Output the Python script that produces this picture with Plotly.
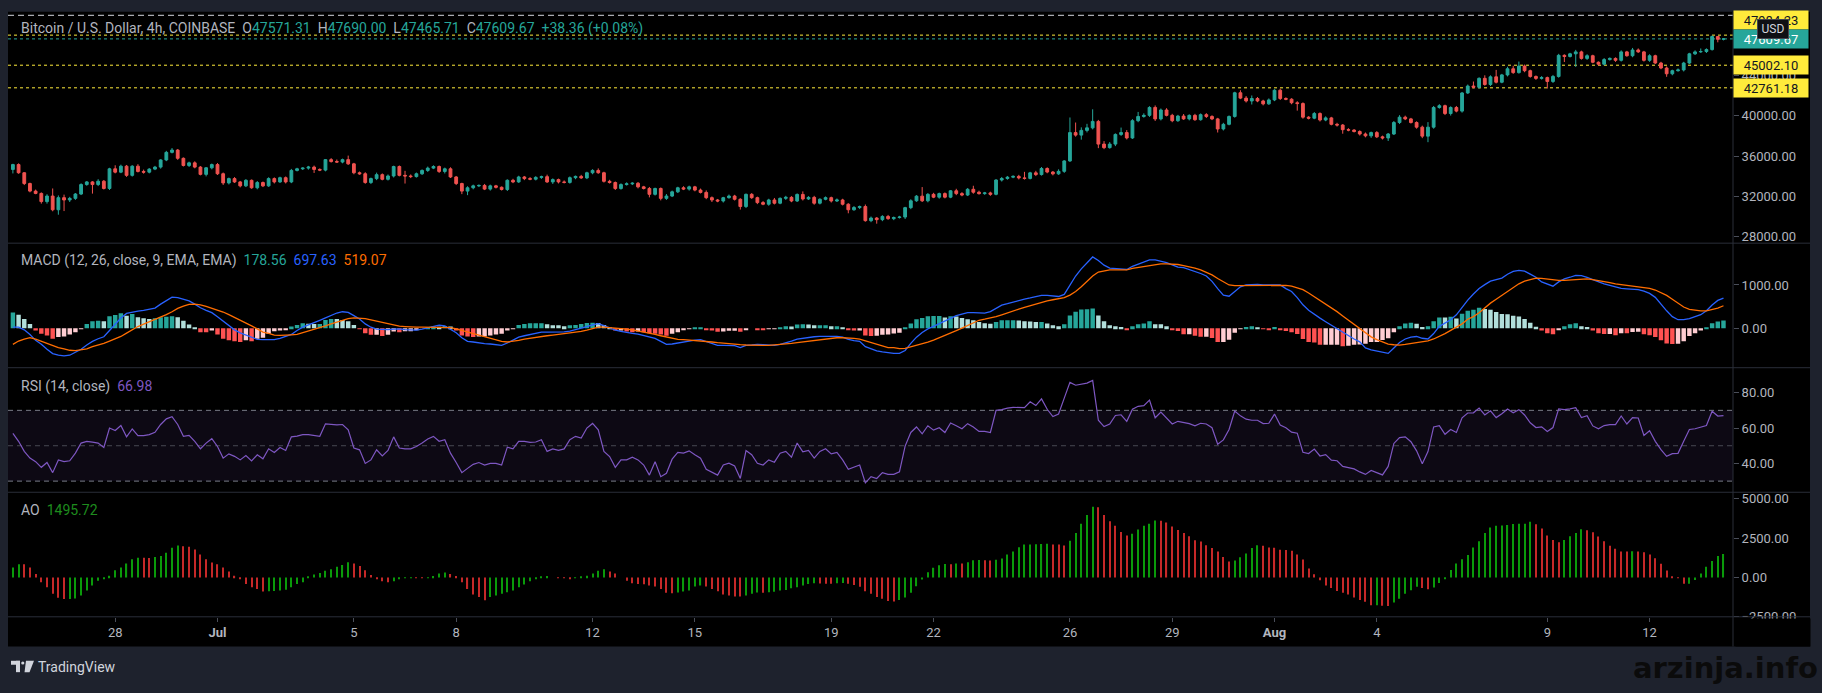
import pandas as pd
import plotly.graph_objects as go

W, H = 1822, 693

# 4h candles, BTC/USD (Coinbase), 25 Jun - 14 Aug 2021
FIRST_OPEN = 34670
CLOSE = [
    35150, 34340, 33270, 32520, 32290, 31480, 32030, 30670, 31870, 31640,
    31800, 32230, 33170, 33430, 33170, 33500, 32780, 34730, 34400, 34990,
    34080, 34990, 34470, 34400, 34700, 34900, 35610, 36360, 36590, 35770,
    35060, 35320, 34900, 34180, 34830, 35150, 34240, 33330, 33760, 33430,
    33040, 33590, 32850, 33370, 33040, 33760, 33430, 33850, 33430, 34570,
    34730, 34800, 34900, 34670, 34600, 35640, 35450, 35400, 35640, 35220,
    34340, 34240, 33370, 33760, 34150, 33690, 34020, 34960, 34080, 34020,
    33960, 34240, 34570, 34800, 34960, 34470, 34730, 33920, 33270, 32520,
    32850, 33040, 33080, 32720, 33040, 32900, 32680, 33590, 33430, 33920,
    33760, 33700, 33880, 33950, 33430, 33660, 33430, 33380, 33850, 33980,
    33830, 34340, 34570, 34340, 33490, 33370, 32780, 33170, 33240, 33300,
    32940, 32780, 32200, 32780, 31800, 32030, 32450, 32850, 32720, 32940,
    32620, 32390, 31870, 31640, 31540, 31870, 32030, 31710, 30990, 32200,
    31870, 31380, 31220, 31640, 31320, 31800, 31900, 31540, 32190, 31740,
    31900, 31320, 31710, 31870, 31540, 31640, 31220, 30670, 30890, 30990,
    29590, 29850, 29690, 30010, 29790, 29900, 29950, 30880, 31560, 32020,
    31560, 32200, 31920, 32270, 31920, 32550, 32270, 32130, 32700, 32410,
    32270, 32340, 32200, 33620, 33770, 33900, 33980, 33830, 33780, 34330,
    34160, 34760, 34410, 34230, 34480, 35510, 38320, 38070, 38540, 38790,
    39430, 37180, 36830, 37180, 38140, 38320, 37790, 39500, 39920, 40030,
    40815, 39675, 40560, 40030, 39500, 39960, 39680, 40030, 39600, 40100,
    39920, 39680, 38680, 39140, 39920, 42270, 41740, 41455, 41700, 41455,
    41170, 41560, 42520, 41700, 41630, 41280, 41200, 39850, 39750, 40210,
    39570, 39780, 39140, 39070, 38610, 38570, 38430, 38180, 38000, 38320,
    37900, 37790, 38180, 39320, 39850, 39680, 39320, 38860, 37970, 38860,
    40810, 40990, 40210, 40810, 40450, 42250, 42935, 42820, 43700, 43087,
    43848, 43315, 44040, 44648, 44267, 44914, 44458, 43886, 43696, 43772,
    43391, 43886, 45980, 45866, 46132, 46323, 45676, 45942, 45295, 45105,
    45562, 45676, 45486, 46323, 45942, 46513, 46323, 45486, 45942, 45219,
    44724, 44153, 44458, 44534, 45219, 46132, 46323, 46361, 46551, 47846,
    47571.31, 47609.67,
]
UP_WICK = [
    80, 120, 60, 90, 150, 100, 180, 750, 220, 300,
    150, 100, 120, 90, 80, 200, 120, 100, 350, 150,
    120, 100, 200, 180, 100, 120, 80, 150, 200, 100,
    90, 120, 150, 100, 80, 100, 150, 120, 100, 150,
    100, 120, 80, 150, 100, 130, 120, 100, 120, 150,
    100, 80, 120, 150, 100, 60, 150, 200, 100, 400,
    100, 120, 150, 100, 200, 120, 150, 80, 100, 450,
    150, 120, 100, 150, 120, 100, 120, 150, 100, 80,
    150, 120, 100, 150, 120, 100, 80, 100, 150, 120,
    100, 150, 120, 100, 200, 120, 100, 150, 120, 80,
    150, 100, 120, 200, 100, 150, 100, 120, 150, 100,
    120, 100, 150, 80, 100, 200, 120, 100, 150, 120,
    100, 150, 200, 120, 100, 80, 150, 120, 100, 80,
    120, 100, 150, 120, 200, 100, 150, 120, 100, 300,
    120, 150, 100, 120, 100, 150, 120, 100, 150, 100,
    200, 150, 100, 120, 150, 100, 120, 80, 150, 100,
    900, 120, 150, 100, 120, 80, 200, 150, 120, 350,
    150, 100, 120, 80, 150, 120, 100, 150, 600, 100,
    200, 150, 120, 100, 200, 80, 1500, 1000, 300, 400,
    1200, 150, 300, 200, 100, 500, 250, 150, 450, 200,
    120, 200, 150, 180, 150, 120, 200, 100, 150, 120,
    150, 120, 100, 150, 100, 100, 250, 200, 300, 150,
    120, 150, 100, 150, 120, 100, 150, 120, 100, 150,
    120, 150, 100, 150, 100, 150, 100, 120, 150, 100,
    150, 120, 100, 150, 200, 150, 100, 120, 150, 500,
    150, 150, 100, 120, 150, 100, 150, 450, 100, 300,
    150, 690, 100, 200, 300, 450, 150, 100, 100, 150,
    100, 150, 150, 100, 100, 200, 120, 150, 100, 80,
    150, 100, 100, 150, 100, 200, 150, 100, 150, 100,
    120, 150, 100, 150, 120, 100, 150, 300, 120, 100,
    40, 80.33,
]
DN_WICK = [
    400, 100, 150, 120, 80, 200, 200, 150, 490, 1100,
    200, 150, 100, 120, 900, 150, 100, 150, 120, 100,
    150, 120, 100, 150, 120, 100, 150, 120, 100, 150,
    100, 150, 120, 100, 200, 150, 120, 200, 150, 100,
    150, 120, 100, 150, 120, 100, 150, 100, 150, 120,
    100, 120, 150, 350, 100, 120, 100, 80, 120, 100,
    150, 100, 120, 150, 150, 100, 120, 150, 100, 750,
    150, 100, 120, 150, 100, 150, 200, 100, 150, 300,
    400, 150, 120, 100, 150, 120, 100, 150, 120, 100,
    150, 100, 120, 150, 100, 200, 150, 100, 120, 150,
    100, 120, 150, 100, 120, 100, 150, 120, 100, 120,
    150, 100, 300, 120, 200, 150, 100, 120, 100, 150,
    120, 100, 150, 200, 120, 150, 100, 120, 300, 150,
    120, 150, 100, 150, 120, 100, 150, 120, 100, 150,
    100, 150, 120, 100, 150, 100, 120, 350, 100, 150,
    100, 150, 400, 150, 120, 150, 100, 200, 150, 100,
    120, 150, 100, 150, 120, 100, 150, 120, 100, 150,
    100, 120, 150, 100, 150, 120, 100, 150, 120, 100,
    150, 100, 120, 150, 100, 150, 100, 150, 450, 200,
    150, 400, 150, 100, 200, 150, 150, 100, 150, 120,
    150, 200, 150, 100, 150, 120, 100, 150, 120, 100,
    150, 120, 350, 150, 100, 120, 100, 150, 350, 120,
    150, 100, 120, 150, 100, 150, 700, 150, 120, 100,
    150, 120, 100, 150, 400, 120, 100, 150, 150, 200,
    120, 150, 300, 100, 150, 120, 100, 150, 200, 600,
    150, 120, 150, 200, 120, 150, 100, 120, 150, 120,
    150, 120, 100, 150, 120, 100, 150, 120, 150, 120,
    700, 150, 120, 550, 100, 1300, 120, 150, 100, 150,
    120, 100, 150, 120, 100, 150, 100, 120, 150, 100,
    120, 300, 150, 100, 150, 100, 120, 100, 150, 100,
    300, 105.6,
]

MACD_HIST = [
    366, 313, 214, 99, -53, -130, -170, -244, -206, -190, -145, -92, -15, 99, 160, 175,
    160, 275, 305, 343, 290, 328, 252, 229, 214, 229, 252, 267, 275, 252, 175, 84, 23,
    -92, -95, -53, -145, -244, -282, -305, -320, -282, -305, -244, -221, -130, -69, -53,
    -50, 38, 76, 115,
    100, 95, 99, 191, 214, 210, 191, 160, 76, -8, -115, -153, -150, -183, -153, -76, -92,
    -69, -69, -38, 0, 23, 38, 36, 53, 38, -53, -168, -190, -206, -190, -190, -168, -145,
    -130, -53, -15, 76, 99, 115, 116, 117, 92, 69, 68, 46, 69, 76, 99, 122, 123, 118,
    76, 23, -53, -53, -76, -92, -76, -92, -115, -130, -145, -175, -130, -92, -38, -15, 23,
    23, -38, -53, -84, -76, -61, -61, -84, -38, 0, -31, -38, -15, -15, 23, 46, 38, 84, 92,
    84, 69, 69, 69, 46, 46, 23, -38, -53, -53, -168, -183, -175, -153, -145,
    -125, -108, 17, 108, 208, 233, 275, 280, 282, 250, 275, 270, 233, 208, 183, 142, 117,
    100, 142, 183, 185, 186, 180, 158, 155, 142, 145, 108, 67, 42, 92, 292, 383, 433, 440,
    458, 292, 158, 67, 42, 25, -42, 42, 92, 108, 158, 92, 90, 42, -33, -67,
    -142, -142, -175, -200, -200, -225, -317, -317, -267, -108, -17, 25, 42, 17, -17, -42,
    25, -25, -67, -92, -133, -250, -317, -333, -383, -383, -383, -383, -417, -408, -383,
    -375, -358, -317, -317, -275, -233, -92, 42, 108, 125, 100, 25, 42, 158, 250, 245,
    267, 225, 333, 405,
    429, 473, 447, 429, 375, 330, 325, 286, 268, 214, 125, 36, -54, -116, -143, -27, 45,
    89, 116, 45, 27, -54, -116, -134, -134, -161, -116, -120, -89, -85, -143, -161, -205,
    -277, -357, -366, -360, -304, -179, -116, -54, 18, 116, 152, 178.56,
]
MACD_LINE = [
    23, 23, -38, -145, -282, -374, -488, -588, -626, -641, -626, -557, -488, -389, -305,
    -244, -198, -53, 92, 236, 343, 374, 397, 412, 435, 465, 557, 641, 717, 710, 679, 633,
    557, 473, 412, 359, 267, 160, 53, -38, -107, -160, -221, -259, -267, -267, -267, -237,
    -191, -145, -53, 23,
    76, 137, 183, 237, 298, 351, 381, 366, 290, 214, 99, 23, -23, -31, -31, -23, -15, -31,
    -46, -46, -23, 8, 46, 69, 53, -23, -107, -221, -305, -320, -343, -359, -366, -381,
    -397, -343, -267, -206, -175, -145, -107, -92, -92, -92, -92, -84, -69, -38, 0, 38,
    76, 107,
    61, 0, -46, -76, -107, -122, -137, -168, -214, -237, -305, -374, -366, -343, -313,
    -282, -275, -267, -305, -359, -397, -397, -397, -404, -450, -397, -389, -374, -381,
    -389, -397, -374, -343, -298, -252, -229, -206, -198, -191, -191, -183, -191, -206,
    -259, -290, -305, -427, -481, -526, -549, -572,
    -583, -583, -516, -350, -208, -100, -17, 42, 108, 167, 242, 292, 325, 358, 358, 350,
    350, 383, 466, 533, 566, 608, 641, 675, 700, 725, 758, 758, 750, 733, 783, 1000, 1208,
    1374, 1516, 1649, 1566, 1458, 1391, 1383, 1366, 1358, 1433, 1483, 1541, 1583, 1583,
    1558, 1516, 1466, 1416,
    1400, 1358, 1316, 1266, 1208, 1083, 916, 766, 741, 850, 958, 1000, 1016, 1016, 1000,
    1000, 1016, 1000, 916, 850, 708, 541, 416, 316, 233, 150, 67, -17, -100, -183, -250,
    -317, -458, -500, -533, -550, -583, -458, -333, -250, -208, -192, -233, -250, -125,
    42, 115, 195, 310, 480, 650,
    790, 920, 1009, 1089, 1125, 1161, 1250, 1313, 1340, 1322, 1250, 1179, 1072, 1027, 973,
    1072, 1143, 1179, 1223, 1215, 1179, 1125, 1072, 1027, 991, 955, 920, 911, 902, 893,
    857, 804, 714, 554, 402, 268, 196, 196, 223, 268, 313, 402, 536, 643, 697.63,
]
SIGNAL_LINE = [
    -374, -298, -252, -221, -252, -305, -359, -404, -450, -481, -511, -519, -504, -481,
    -427, -397, -351, -298, -244, -191, -114, -38, 38, 92, 145, 198, 252, 313, 381, 458,
    511, 549, 557, 542, 504, 465, 420, 374, 313, 252, 191, 122, 53, -15, -92, -122, -160,
    -168, -168, -153, -145, -107,
    -69, -38, 0, 53, 99, 145, 191, 221, 237, 237, 221, 191, 160, 122, 92, 69, 46, 38, 23,
    23, 23, 23, 23, 23, 23, 15, -15, -53, -92, -114, -160, -206, -244, -282, -305, -320,
    -305, -282, -252, -229, -206, -191, -175, -160, -145, -130, -114, -99, -76, -46, -15, 23,
    23, 15, 8, -8, -23, -38, -61, -84, -114, -145, -175, -206, -237, -259, -267, -275, -282,
    -290, -305, -320, -336, -351, -359, -374, -381, -389, -397, -397, -397, -397, -389,
    -374, -366, -351, -336, -320, -305, -290, -267, -252, -229, -221, -221, -221, -237,
    -252, -290, -336, -374, -412, -450,
    -450, -475, -466, -433, -400, -367, -325, -275, -225, -175, -117, -58, 0, 67, 125, 183,
    208, 233, 266, 308, 358, 400, 441, 483, 525, 558, 600, 633, 658, 683, 708, 766, 850,
    958, 1083, 1208, 1300, 1333, 1349, 1349, 1349, 1349, 1383, 1408, 1433, 1449, 1474,
    1491, 1491, 1491, 1474,
    1449, 1424, 1391, 1350, 1300, 1233, 1150, 1066, 1000, 983, 983, 991, 991, 1000, 1000,
    1000, 1000, 1000, 991, 975, 941, 891, 816, 733, 650, 566, 475, 383, 283, 183, 83, -17,
    -117, -200, -266, -325, -367, -383, -392, -375, -358, -342, -317, -292, -250, -192,
    -125, -50, 17, 100, 208,
    268, 357, 473, 580, 670, 759, 848, 938, 1027, 1089, 1134, 1161, 1152, 1134, 1116, 1107,
    1107, 1116, 1125, 1143, 1143, 1125, 1107, 1080, 1054, 1027, 1009, 991, 982, 964, 946,
    920, 884, 830, 759, 670, 580, 491, 437, 411, 402, 402, 429, 464, 519.07,
]
RSI = [
    57, 52.5, 46.8, 43, 41, 37.8, 40.5, 34.8, 42, 41, 41.5, 45.8, 51.5, 52.5, 52, 51.5,
    49, 60, 58.6, 61.4, 55, 59.5, 55.7, 55.7, 56.3, 57.6, 62, 65.2, 66.4, 62, 55.3, 55.9,
    52.5, 48.3, 51.5, 54, 49.6, 43, 45.4, 44, 42, 44.5, 41.4, 44.9, 42.6, 48.3, 46.2, 49,
    47.3, 55, 55.4, 56.3,
    56.3, 55.7, 55.3, 62.4, 62, 61.8, 62, 59, 48.7, 47.7, 40, 42, 47.7, 44.3, 47.3, 55,
    48.7, 48.2, 48.2, 49.6, 51.5, 53.8, 55.3, 52.5, 53.4, 45.8, 40.5, 34.8, 37.2, 39.5,
    40.5, 39.1, 40, 40, 39.1, 49.2, 48.2, 52.5, 52.5, 51.9, 52.1, 53.4, 46.8, 48.2, 47.4,
    48.2, 53.4, 55.3, 54.3, 60, 62.6, 59,
    46.8, 43.9, 37.8, 42, 42, 43.5, 42, 39.1, 33.4, 41, 32.5, 34.4, 42.4, 46.2, 45.8, 47.1,
    44.9, 43, 36.7, 35, 33.4, 39.1, 40.1, 38.6, 31.5, 47.3, 44.9, 40.1, 39.1, 42, 40.7,
    45.8, 46.8, 43.5, 51.5, 46.6, 47.3, 43, 46.8, 48.3, 45.4, 46.2, 42, 36.7, 37.8, 39.1,
    29, 32.5, 31.5, 34.8, 33.8,
    33.8, 35.2, 49.8, 57.5, 60.6, 56.7, 61.3, 58.8, 60.2, 57.5, 62.9, 61.3, 59.6, 62.5,
    60.6, 58.1, 58.1, 57.5, 70, 70.4, 71.3, 71.7, 71.7, 71.5, 74.8, 72.7, 76.5, 70.6, 66.5,
    67.9, 76.9, 85.8, 84.2, 85, 85.4, 86.9, 64.4, 60.8, 62.3, 67.1, 67.5, 63.8, 70.6, 72.3,
    72.7, 75.8, 65.8, 69, 65.8, 62.3, 63.8,
    63.1, 62.5, 61.3, 62.7, 62.3, 60.2, 50.8, 53.3, 59.2, 69.6, 66.9, 65, 64.4, 64.4, 62.5,
    62.7, 67.9, 61.7, 60.2, 57.7, 57.1, 46.3, 45.6, 48.1, 44.2, 45, 41.9, 41.5, 38.3, 37.5,
    36.9, 35.2, 33.8, 36, 34.6, 33.5, 38.3, 51.3, 54.6, 55, 52.3, 47.1, 39.8, 46.7, 60.6,
    61.3, 56.5, 59.2, 57.5, 65.8, 68.5,
    68.6, 71.3, 67.4, 69.7, 65.9, 68.1, 70.8, 68.6, 70.4, 67.4, 63, 60.3, 60.7, 58.1, 60.3,
    70.8, 70.4, 70.8, 71.5, 65.9, 67, 61.2, 59.6, 61.4, 61.9, 61.9, 66.8, 62.3, 65.9, 65.7,
    55.8, 58.5, 52.5, 47.8, 44, 45.5, 45.7, 52.5, 59.2, 59.6, 60.5, 61.4, 69.5, 66.8, 66.98,
]
AO = [
    627, 836, 830, 627, 209, -314, -627, -1045, -1300, -1380, -1370, -1340, -1150, -836,
    -523, -209, -105, 105, 460, 627, 878, 1150, 1254, 1250, 1240, 1296, 1359, 1568, 1881,
    2027, 1986, 1950, 1777, 1463, 1150, 941, 836, 627, 376, 105, -105, -418, -627, -732,
    -900, -880, -860, -830, -780, -627, -418, -314,
    20, 180, 272, 418, 523, 669, 794, 961, 878, 732, 460, 146, -105, -251, -314, -251,
    -105, -42, -30, -42, -50, -42, 84, 251, 314, 209, 84, -314, -732, -1087, -1254, -1463,
    -1254, -1150, -1045, -941, -836, -627, -460, -251, -105, 42, 84, 0, -20, -40, -60, -42,
    20, 105, 251, 418,
    523, 376, 251, 0, -209, -376, -418, -430, -523, -585, -732, -982, -1003, -960, -900,
    -836, -585, -523, -585, -732, -878, -1087, -1150, -1212, -1220, -1150, -1045, -961,
    -980, -941, -920, -836, -800, -690, -627, -523, -418, -376, -390, -400, -410, -380,
    -360, -400, -480, -600, -878, -1045, -1254, -1359, -1505,
    -1530, -1436, -1277, -980, -570, -137, 319, 616, 775, 844, 840, 889, 885, 958, 1094,
    1100, 1090, 1080, 1130, 1208, 1459, 1642, 1915, 2098, 2100, 2110, 2120, 2143, 2100,
    2090, 2030, 2326, 2827, 3420, 3967, 4492, 4469, 3967, 3580, 3283, 2896, 2668, 2782,
    3055, 3283, 3420, 3625, 3600, 3500, 3238, 3010,
    2827, 2622, 2371, 2280, 2052, 1870, 1642, 1300, 1003, 1072, 1277, 1528, 1870, 2052,
    2006, 1900, 1890, 1756, 1740, 1700, 1459, 1140, 570, 205, -182, -524, -684, -866, -980,
    -1094, -1277, -1436, -1550, -1778, -1770, -1800, -1824, -1596, -1368, -1049, -821,
    -593, -684, -752, -638, -365, -80, 470, 890, 1150, 1430,
    1895, 2308, 2819, 3183, 3280, 3300, 3329, 3402, 3410, 3420, 3548, 3378, 3110, 2673,
    2381, 2236, 2381, 2624, 2819, 3062, 3000, 2867, 2600, 2308, 2017, 1822, 1652, 1640,
    1660, 1650, 1600, 1458, 1215, 875, 437, 73, -10, -413, -400, -170, 243, 680, 1045,
    1361, 1495.72,
]

LEVELS = [47984.23, 45002.10, 42761.18]
TICK_DATES = ['2021-06-28', '2021-07-01', '2021-07-05', '2021-07-08', '2021-07-12',
              '2021-07-15', '2021-07-19', '2021-07-22', '2021-07-26', '2021-07-29',
              '2021-08-01', '2021-08-04', '2021-08-09', '2021-08-12']
TICK_TEXT = ['28', '<b>Jul</b>', '5', '8', '12', '15', '19', '22', '26', '29',
             '<b>Aug</b>', '4', '9', '12']

UP = '#26a69a'
DOWN = '#ef5350'
TEXT = '#b2b5be'
GRID = '#2a2e39'
FONT = 'Roboto'


def px(x):
    return x / W


def py(y):
    return 1 - y / H


def hline(y, yref, color, dash, x0=8, x1=1733, layer='below'):
    return dict(type='line', xref='paper', yref=yref, x0=px(x0), x1=px(x1), y0=y, y1=y,
                line=dict(color=color, width=1, dash=dash), layer=layer)


def make_graph():
    n = len(CLOSE)
    for name, arr in [('up', UP_WICK), ('dn', DN_WICK), ('hist', MACD_HIST), ('macd', MACD_LINE),
                      ('sig', SIGNAL_LINE), ('rsi', RSI), ('ao', AO)]:
        assert len(arr) == n, (name, len(arr), n)

    times = pd.date_range('2021-06-25 00:00', periods=n, freq='4h')
    opens = [FIRST_OPEN] + CLOSE[:-1]
    highs = [max(o, c) + u for o, c, u in zip(opens, CLOSE, UP_WICK)]
    lows = [min(o, c) - d for o, c, d in zip(opens, CLOSE, DN_WICK)]

    hist_colors = []
    prev = 0
    for v in MACD_HIST:
        if v >= 0:
            hist_colors.append(UP if v >= prev else '#b2dfdb')
        else:
            hist_colors.append('#ffcdd2' if v >= prev else '#ff5252')
        prev = v

    ao_colors = ['#0a9a0a']
    for a, b in zip(AO[:-1], AO[1:]):
        ao_colors.append('#0a9a0a' if b >= a else '#c62828')

    step = 4 * 3600 * 1000
    fig = go.Figure()

    fig.add_trace(go.Candlestick(
        x=times, open=opens, high=highs, low=lows, close=CLOSE,
        increasing=dict(line=dict(color=UP, width=1), fillcolor=UP),
        decreasing=dict(line=dict(color=DOWN, width=1), fillcolor=DOWN),
        whiskerwidth=0, xaxis='x', yaxis='y', hoverinfo='skip'))

    fig.add_trace(go.Bar(x=times, y=MACD_HIST, width=step * 0.78,
                         marker=dict(color=hist_colors, line=dict(width=0)), yaxis='y2'))
    fig.add_trace(go.Scatter(x=times, y=MACD_LINE, mode='lines',
                             line=dict(color='#2962ff', width=1.3), yaxis='y2'))
    fig.add_trace(go.Scatter(x=times, y=SIGNAL_LINE, mode='lines',
                             line=dict(color='#ff6d00', width=1.3), yaxis='y2'))

    fig.add_trace(go.Scatter(x=times, y=RSI, mode='lines',
                             line=dict(color='#7e57c2', width=1.2), yaxis='y3'))

    fig.add_trace(go.Bar(x=times, y=AO, width=step * 0.2,
                         marker=dict(color=ao_colors, line=dict(width=0)), yaxis='y4'))

    x_left = '2021-06-24 20:33:00'
    x_right = '2021-08-14 10:42:00'

    yax = dict(side='right', anchor='x', showgrid=False, zeroline=False, ticks='outside',
               ticklen=5, tickcolor='#4a4e59', tickformat='.2f', showline=False,
               tickfont=dict(family=FONT, size=13, color=TEXT), fixedrange=True)

    shapes = [
        dict(type='rect', xref='paper', yref='paper', x0=px(8), x1=px(1810), y0=py(653), y1=py(11),
             fillcolor='#000000', line=dict(width=0), layer='below'),
        dict(type='rect', xref='paper', yref='y3', x0=px(8), x1=px(1733), y0=30, y1=70,
             fillcolor='rgba(126,87,194,0.1)', line=dict(width=0), layer='below'),
        hline(70, 'y3', '#787b86', '5px,4px'),
        hline(50, 'y3', 'rgba(120,123,134,0.55)', '5px,4px'),
        hline(30, 'y3', '#787b86', '5px,4px'),
        hline(49950, 'y', '#d1d4dc', '6px,4px'),
        hline(CLOSE[-1], 'y', UP, 'dot'),
    ]
    for lv in LEVELS:
        shapes.append(hline(lv, 'y', '#ffeb3b', 'dot'))
    for yy in [245, 371, 497, 623]:
        shapes.append(dict(type='line', xref='paper', yref='paper', x0=px(8), x1=px(1810),
                           y0=py(yy), y1=py(yy), line=dict(color=GRID, width=1)))
    shapes.append(dict(type='line', xref='paper', yref='paper', x0=px(1733), x1=px(1733),
                       y0=py(11), y1=py(653), line=dict(color=GRID, width=1)))

    # TradingView logo glyph
    logo = '#d1d4dc'
    shapes += [
        dict(type='rect', xref='paper', yref='paper', x0=px(11), x1=px(20), y0=py(671.5), y1=py(667.5),
             fillcolor=logo, line=dict(width=0)),
        dict(type='rect', xref='paper', yref='paper', x0=px(16), x1=px(20), y0=py(679), y1=py(667.5),
             fillcolor=logo, line=dict(width=0)),
        dict(type='circle', xref='paper', yref='paper', x0=px(21.2), x1=px(24.4), y0=py(671.3), y1=py(668.1),
             fillcolor=logo, line=dict(width=0)),
        dict(type='path', xref='paper', yref='paper', fillcolor=logo, line=dict(width=0),
             path=f'M {px(26)} {py(667.5)} L {px(34)} {py(667.5)} L {px(29.5)} {py(679)} '
                  f'L {px(24.5)} {py(679)} Z'),
    ]

    o, hh, ll, c = opens[-1], highs[-1], lows[-1], CLOSE[-1]
    chg = c - CLOSE[-2]
    sp = '\u00a0\u00a0'

    def val(v, color):
        return f"<span style='color:{color}'>{v}</span>"

    header = (f"Bitcoin / U.S. Dollar, 4h, COINBASE{sp}O{val(f'{o:.2f}', UP)}{sp}"
              f"H{val(f'{hh:.2f}', UP)}{sp}L{val(f'{ll:.2f}', UP)}{sp}C{val(f'{c:.2f}', UP)}{sp}"
              f"{val(f'{chg:+.2f} ({chg / CLOSE[-2] * 100:+.2f}%)', UP)}")
    macd_txt = (f"MACD (12, 26, close, 9, EMA, EMA){sp}{val(f'{MACD_HIST[-1]:.2f}', UP)}{sp}"
                f"{val(f'{MACD_LINE[-1]:.2f}', '#2962ff')}{sp}{val(f'{SIGNAL_LINE[-1]:.2f}', '#ff6d00')}")
    rsi_txt = f"RSI (14, close){sp}{val(f'{RSI[-1]:.2f}', '#7e57c2')}"
    ao_txt = f"AO{sp}{val(f'{AO[-1]:.2f}', '#1e8c1e')}"

    def label(text, y):
        return dict(text=text, xref='paper', yref='paper', x=px(19), y=py(y), xanchor='left',
                    yanchor='middle', showarrow=False, font=dict(family=FONT, size=14, color=TEXT))

    annotations = [label(header, 28), label(macd_txt, 263), label(rsi_txt, 390), label(ao_txt, 515)]

    def price_box(value, bg, fg, shift=0):
        return dict(text=f'{value:.2f}', xref='paper', yref='y', x=px(1733), y=value, yshift=shift,
                    xanchor='left', yanchor='middle', showarrow=False, width=72, height=16,
                    bgcolor=bg, borderpad=1, font=dict(family=FONT, size=13, color=fg))

    annotations += [
        price_box(LEVELS[0], '#ffeb3b', '#131722', shift=15),
        price_box(c, UP, '#ffffff'),
        price_box(LEVELS[1], '#ffeb3b', '#131722'),
        price_box(LEVELS[2], '#ffeb3b', '#131722'),
        dict(text='USD', xref='paper', yref='paper', x=px(1772.5), y=py(28), xanchor='center',
             yanchor='middle', showarrow=False, width=28, height=16, bgcolor='#0f1014',
             bordercolor='#434651', borderwidth=1, borderpad=1,
             font=dict(family=FONT, size=12, color='#d1d4dc')),
        dict(text='\u00a0', xref='paper', yref='paper', x=px(1734.5), y=py(638.5), xanchor='left',
             yanchor='middle', showarrow=False, width=74, height=27, bgcolor='#000000', borderpad=0),
        dict(text='TradingView', xref='paper', yref='paper', x=px(36), y=py(674), xanchor='left',
             yanchor='middle', showarrow=False, font=dict(family=FONT, size=14, color='#d1d4dc')),
        dict(text='<b>arzinja.info</b>', xref='paper', yref='paper', x=px(1820), y=py(675),
             xanchor='right', yanchor='middle', showarrow=False,
             font=dict(family='DejaVu Sans', size=29, color='#0b0b0b')),
    ]

    fig.update_layout(
        width=W, height=H, autosize=False,
        margin=dict(l=0, r=0, t=0, b=0),
        paper_bgcolor='#1e222d', plot_bgcolor='rgba(0,0,0,0)',
        showlegend=False, hovermode=False, barmode='overlay',
        font=dict(family=FONT, size=13, color=TEXT),
        xaxis=dict(domain=[px(8), px(1733)], range=[x_left, x_right], type='date', anchor='y4',
                   tickvals=TICK_DATES, ticktext=TICK_TEXT, showgrid=False, zeroline=False,
                   ticks='outside', ticklen=4, tickcolor='#4a4e59', showline=False,
                   tickfont=dict(family=FONT, size=13, color=TEXT),
                   rangeslider=dict(visible=False), fixedrange=True),
        yaxis=dict(yax, domain=[py(245), py(11)], range=[27358, 50290], dtick=4000, tick0=0),
        yaxis2=dict(yax, domain=[py(371), py(245)], range=[-915, 1968], dtick=1000, tick0=0),
        yaxis3=dict(yax, domain=[py(497), py(371)], range=[23.7, 94.1], tickvals=[40, 60, 80]),
        yaxis4=dict(yax, domain=[py(623), py(497)], range=[-2510, 5419],
                    tickvals=[-2500, 0, 2500, 5000]),
        shapes=shapes,
        annotations=annotations,
    )

    # the page body has a default 8px margin; drop it so the figure sits at the window origin
    fig.write_html('out.html', config=dict(displayModeBar=False),
                   post_script="document.body.style.margin='0';document.body.style.overflow='hidden';")


if __name__ == '__main__':
    make_graph()
